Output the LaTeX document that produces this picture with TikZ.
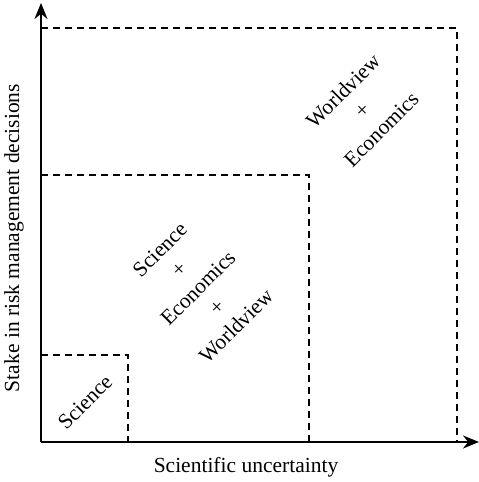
\documentclass[tikz,border=0pt]{standalone}
\usepackage{fontspec}
\setmainfont{Liberation Serif}
\usetikzlibrary{arrows.meta}
\begin{document}
\begin{tikzpicture}[x=1pt,y=1pt,
  axis/.style={line width=2.6pt,-{Stealth[length=16pt,width=13pt]}},
  region/.style={line width=1.8pt,dash pattern=on 7pt off 5pt},
  lbl/.style={font=\fontsize{21.5}{27}\selectfont,align=center,inner sep=0pt},
  rlbl/.style={lbl,rotate=45}]
\useasboundingbox (0,0) rectangle (479,482);
\coordinate (O) at (41,40);
\coordinate (Y) at (41,479);
\coordinate (X) at (479,40);
\draw[region] (41,127) -| (128,40);
\draw[region] (41,307) -| (309,40);
\draw[region] (41,454) -| (457,40);
\draw[axis] (O) -- (Y);
\draw[axis] (O) -- (X);
\node[rlbl] (s) at (85,80) {Science};
\node[rlbl] (m) at (198,194) {Science\\+\\Economics\\+\\Worldview};
\node[rlbl] (t) at (362,372) {Worldview\\+\\Economics};
\node[lbl,rotate=90] (yl) at (14,244) {Stake in risk management decisions};
\node[lbl] (xl) at (246,15) {Scientific uncertainty};
\end{tikzpicture}
\end{document}
